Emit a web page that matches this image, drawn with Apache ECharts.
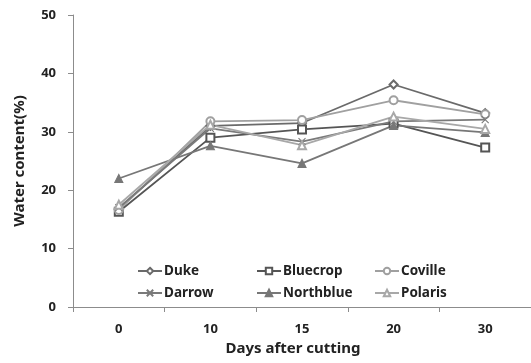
<!DOCTYPE html>
<html>
<head>
<meta charset="utf-8">
<script src="https://cdn.jsdelivr.net/npm/echarts@6/dist/echarts.min.js"></script>
<style>
  html, body { margin: 0; padding: 0; background: #fff; }
  #chart { width: 531px; height: 363px; }
</style>
</head>
<body>
<div id="chart"></div>
<script>
// Days after cutting (x categories)
const days = ['0', '10', '15', '20', '30'];

// Water content (%) per cultivar
const duke      = [16.8, 31.0, 31.5, 38.1, 33.2];
const bluecrop  = [16.3, 29.0, 30.4, 31.4, 27.3];
const coville   = [16.6, 31.8, 32.0, 35.4, 33.0];
const darrow    = [17.0, 30.6, 28.3, 31.8, 32.1];
const northblue = [22.0, 27.6, 24.6, 31.1, 29.9];
const polaris   = [17.5, 31.2, 27.7, 32.6, 30.5];

const yTicks = { min: 0, max: 50, interval: 10 };

const FONT = '"Noto Sans", "DejaVu Sans", sans-serif';
const CROSS = 'path://M0,0L10,10M10,0L0,10';

function line(name, data, color, symbol, size) {
  return {
    name: name,
    type: 'line',
    data: data,
    symbol: symbol,
    symbolSize: size,
    showSymbol: true,
    lineStyle: { color: color, width: 1.8 },
    itemStyle: {
      color: color,
      borderColor: color,
      borderWidth: 1.1
    },
    emphasis: { disabled: true },
    animation: false
  };
}

function legendCol(left, names) {
  return {
    data: names,
    orient: 'vertical',
    left: left,
    top: 262,
    itemWidth: 24,
    itemHeight: 8,
    itemGap: 4,
    padding: 0,
    textStyle: { fontFamily: FONT, fontWeight: 'bold', fontSize: 13.5, color: '#222', padding: [0, 0, 0, -3], lineHeight: 18 }
  };
}

const chart = echarts.init(document.getElementById('chart'), null, { renderer: 'canvas' });
chart.setOption({
  backgroundColor: '#fff',
  animation: false,
  grid: { left: 73, right: 0, top: 15, bottom: 56 },
  legend: [
    legendCol(137, ['Duke', 'Darrow']),
    legendCol(256, ['Bluecrop', 'Northblue']),
    legendCol(374, ['Coville', 'Polaris'])
  ],
  xAxis: {
    type: 'category',
    data: days,
    boundaryGap: true,
    name: 'Days after cutting',
    nameLocation: 'middle',
    nameGap: 33,
    nameTextStyle: { fontFamily: FONT, fontWeight: 'bold', fontSize: 15, color: '#222', padding: [0, 18, 0, 0] },
    axisLine: { lineStyle: { color: '#8c8c8c', width: 1 } },
    axisTick: { show: true, length: 5, alignWithLabel: false, lineStyle: { color: '#8c8c8c' } },
    axisLabel: { margin: 16, fontFamily: FONT, fontWeight: 'bold', fontSize: 13, color: '#222' },
    splitLine: { show: false }
  },
  yAxis: {
    type: 'value',
    min: yTicks.min,
    max: yTicks.max,
    interval: yTicks.interval,
    name: 'Water content(%)',
    nameLocation: 'middle',
    nameGap: 46,
    nameTextStyle: { fontFamily: FONT, fontWeight: 'bold', fontSize: 15, color: '#222' },
    axisLine: { show: true, lineStyle: { color: '#8c8c8c', width: 1 } },
    axisTick: { show: true, length: 5, lineStyle: { color: '#8c8c8c' } },
    axisLabel: { margin: 17, fontFamily: FONT, fontWeight: 'bold', fontSize: 13, color: '#222' },
    splitLine: { show: false }
  },
  series: [
    line('Duke', duke, '#6a6a6a', 'emptyDiamond', 8),
    line('Bluecrop', bluecrop, '#555555', 'emptyRect', 8),
    line('Coville', coville, '#a0a0a0', 'emptyCircle', 8),
    line('Darrow', darrow, '#7a7a7a', CROSS, 7),
    line('Northblue', northblue, '#777777', 'triangle', 8),
    line('Polaris', polaris, '#a8a8a8', 'emptyTriangle', 8)
  ]
});
</script>
</body>
</html>
